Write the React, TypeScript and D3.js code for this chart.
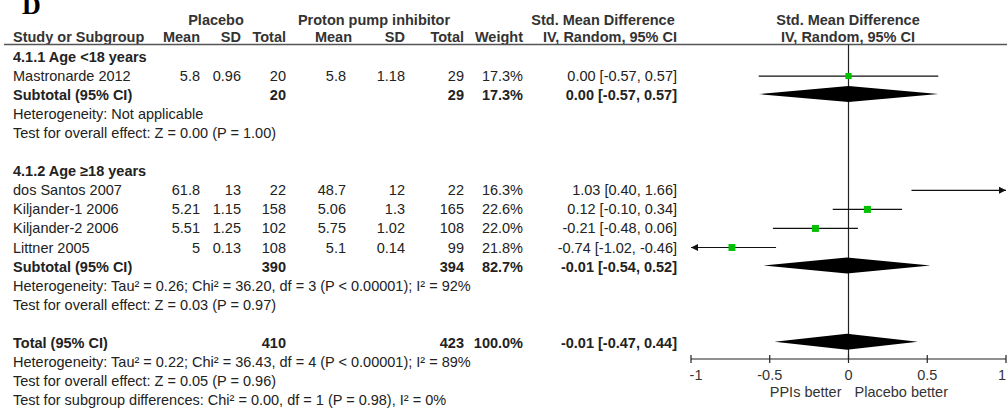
import React from "react";
import * as d3 from "d3";

// Study-level data
const studyNames = ["Mastronarde 2012", "dos Santos 2007", "Kiljander-1 2006", "Kiljander-2 2006", "Littner 2005"];
const placeboMean = ["5.8", "61.8", "5.21", "5.51", "5"];
const placeboSD = ["0.96", "13", "1.15", "1.25", "0.13"];
const placeboTotal = [20, 22, 158, 102, 108];
const ppiMean = ["5.8", "48.7", "5.06", "5.75", "5.1"];
const ppiSD = ["1.18", "12", "1.3", "1.02", "0.14"];
const ppiTotal = [29, 22, 165, 108, 99];
const studyWeight = [17.3, 16.3, 22.6, 22.0, 21.8];
const studySMD = [0.0, 1.03, 0.12, -0.21, -0.74];
const studyLo = [-0.57, 0.4, -0.1, -0.48, -1.02];
const studyHi = [0.57, 1.66, 0.34, 0.06, -0.46];

// Pooled estimates: subgroup 1, subgroup 2, overall
const pooledLabels = ["Subtotal (95% CI)", "Subtotal (95% CI)", "Total (95% CI)"];
const pooledPlaceboN = [20, 390, 410];
const pooledPpiN = [29, 394, 423];
const pooledWeight = [17.3, 82.7, 100.0];
const pooledSMD = [0.0, -0.01, -0.01];
const pooledLo = [-0.57, -0.54, -0.47];
const pooledHi = [0.57, 0.52, 0.44];

const axisTicks = [-1, -0.5, 0, 0.5, 1];

const fmt2 = d3.format(".2f");
const fmtW = (w: number) => d3.format(".1f")(w) + "%";
const ciText = (m: number, lo: number, hi: number) =>
  `${fmt2(m)} [${fmt2(lo)}, ${fmt2(hi)}]`.replace(/\u2212/g, "-");

type Row =
  | { kind: "heading"; text: string }
  | { kind: "study"; i: number }
  | { kind: "pooled"; i: number }
  | { kind: "note"; text: string }
  | { kind: "blank" };

const rows: Row[] = [
  { kind: "heading", text: "4.1.1 Age <18 years" },
  { kind: "study", i: 0 },
  { kind: "pooled", i: 0 },
  { kind: "note", text: "Heterogeneity: Not applicable" },
  { kind: "note", text: "Test for overall effect: Z = 0.00 (P = 1.00)" },
  { kind: "blank" },
  { kind: "heading", text: "4.1.2 Age \u226518 years" },
  { kind: "study", i: 1 },
  { kind: "study", i: 2 },
  { kind: "study", i: 3 },
  { kind: "study", i: 4 },
  { kind: "pooled", i: 1 },
  { kind: "note", text: "Heterogeneity: Tau\u00b2 = 0.26; Chi\u00b2 = 36.20, df = 3 (P < 0.00001); I\u00b2 = 92%" },
  { kind: "note", text: "Test for overall effect: Z = 0.03 (P = 0.97)" },
  { kind: "blank" },
  { kind: "pooled", i: 2 },
  { kind: "note", text: "Heterogeneity: Tau\u00b2 = 0.22; Chi\u00b2 = 36.43, df = 4 (P < 0.00001); I\u00b2 = 89%" },
  { kind: "note", text: "Test for overall effect: Z = 0.05 (P = 0.96)" },
  { kind: "note", text: "Test for subgroup differences: Chi\u00b2 = 0.00, df = 1 (P = 0.98), I\u00b2 = 0%" },
];

const W = 1007;
const H = 410;
const FONT = "'Liberation Sans', Arial, sans-serif";
const TXT = "#222";

// Column right edges
const col = {
  pMean: 200,
  pSD: 241,
  pTotal: 286,
  iMean: 346,
  iSD: 405,
  iTotal: 464,
  weight: 523,
  ci: 677,
};
const leftX = 13;

export default function App() {
  const x = d3.scaleLinear().domain([-1, 1]).range([691, 1006]);
  const y = d3.scaleLinear().domain([0, 1]).range([57, 57 + 19.05]);
  const sq = d3.scaleSqrt().domain([0, 25]).range([0, 7.4]);
  const [xMin, xMax] = x.domain();
  const axisY = 359;
  const headerLineY = 44.5;
  const fs = 14.5;

  const num = (v: string | number, xr: number, cy: number, bold = false) => (
    <text x={xr} y={cy + 5} textAnchor="end" fontWeight={bold ? "bold" : "normal"}>
      {v}
    </text>
  );

  const diamond = (m: number, lo: number, hi: number, cy: number) => {
    const p = d3.path();
    p.moveTo(x(lo), cy);
    p.lineTo(x(m), cy - 8);
    p.lineTo(x(hi), cy);
    p.lineTo(x(m), cy + 8);
    p.closePath();
    return <path d={p.toString()} fill="#000" />;
  };

  const ciLine = (m: number, lo: number, hi: number, w: number, cy: number) => {
    const a = Math.max(lo, xMin);
    const b = Math.min(hi, xMax);
    const parts: React.ReactNode[] = [];
    parts.push(<line key="l" x1={x(a)} x2={x(b)} y1={cy} y2={cy} stroke="#111" strokeWidth={1.2} />);
    if (hi > xMax) {
      const xe = x(xMax);
      parts.push(<path key="ar" d={`M${xe},${cy} L${xe - 7},${cy - 3.5} L${xe - 7},${cy + 3.5} Z`} fill="#111" />);
    }
    if (lo < xMin) {
      const xs = x(xMin);
      parts.push(<path key="al" d={`M${xs},${cy} L${xs + 7},${cy - 3.5} L${xs + 7},${cy + 3.5} Z`} fill="#111" />);
    }
    if (m >= xMin && m <= xMax) {
      const s = sq(w);
      parts.push(<rect key="s" x={x(m) - s / 2} y={cy - s / 2} width={s} height={s} fill="#00c000" />);
    }
    return parts;
  };

  return (
    <svg width={W} height={H} style={{ position: "absolute", left: 0, top: 0, background: "#fff" }}
      fontFamily={FONT} fontSize={fs} fill={TXT}>
      <rect width={W} height={H} fill="#fff" />
      <text x={22} y={14} fontFamily="'Liberation Serif', 'Times New Roman', serif" fontWeight="bold" fontSize={26} fill="#000">D</text>

      {/* Column headers */}
      <g fontWeight="bold" fill="#333">
        <text x={216} y={25} textAnchor="middle">Placebo</text>
        <text x={374} y={25} textAnchor="middle">Proton pump inhibitor</text>
        <text x={603} y={25} textAnchor="middle">Std. Mean Difference</text>
        <text x={848} y={25} textAnchor="middle">Std. Mean Difference</text>
        <text x={leftX} y={42}>Study or Subgroup</text>
        <text x={col.pMean} y={42} textAnchor="end">Mean</text>
        <text x={col.pSD} y={42} textAnchor="end">SD</text>
        <text x={col.pTotal} y={42} textAnchor="end">Total</text>
        <text x={col.iMean + 6} y={42} textAnchor="end">Mean</text>
        <text x={col.iSD} y={42} textAnchor="end">SD</text>
        <text x={col.iTotal} y={42} textAnchor="end">Total</text>
        <text x={col.weight} y={42} textAnchor="end">Weight</text>
        <text x={col.ci} y={42} textAnchor="end">IV, Random, 95% CI</text>
        <text x={848} y={42} textAnchor="middle">IV, Random, 95% CI</text>
      </g>
      <line x1={4} x2={W} y1={headerLineY} y2={headerLineY} stroke="#555" strokeWidth={1.5} />

      {/* Line of no effect */}
      <line x1={x(0)} x2={x(0)} y1={headerLineY} y2={axisY} stroke="#222" strokeWidth={1.2} />

      {rows.map((r, k) => {
        const cy = y(k);
        if (r.kind === "blank") return null;
        if (r.kind === "heading")
          return <text key={k} x={leftX} y={cy + 5} fontWeight="bold">{r.text}</text>;
        if (r.kind === "note")
          return <text key={k} x={leftX} y={cy + 5}>{r.text}</text>;
        if (r.kind === "study") {
          const i = r.i;
          return (
            <g key={k}>
              <text x={leftX} y={cy + 5}>{studyNames[i]}</text>
              {num(placeboMean[i], col.pMean, cy)}
              {num(placeboSD[i], col.pSD, cy)}
              {num(placeboTotal[i], col.pTotal, cy)}
              {num(ppiMean[i], col.iMean, cy)}
              {num(ppiSD[i], col.iSD, cy)}
              {num(ppiTotal[i], col.iTotal, cy)}
              {num(fmtW(studyWeight[i]), col.weight, cy)}
              {num(ciText(studySMD[i], studyLo[i], studyHi[i]), col.ci, cy)}
              {ciLine(studySMD[i], studyLo[i], studyHi[i], studyWeight[i], cy)}
            </g>
          );
        }
        const i = r.i;
        return (
          <g key={k}>
            <text x={leftX} y={cy + 5} fontWeight="bold">{pooledLabels[i]}</text>
            {num(pooledPlaceboN[i], col.pTotal, cy, true)}
            {num(pooledPpiN[i], col.iTotal, cy, true)}
            {num(fmtW(pooledWeight[i]), col.weight, cy, true)}
            {num(ciText(pooledSMD[i], pooledLo[i], pooledHi[i]), col.ci, cy, true)}
            {diamond(pooledSMD[i], pooledLo[i], pooledHi[i], cy - 1)}
          </g>
        );
      })}

      {/* Axis */}
      <line x1={x(xMin)} x2={x(xMax)} y1={axisY} y2={axisY} stroke="#222" strokeWidth={1.2} />
      {axisTicks.map((t) => (
        <g key={t}>
          <line x1={x(t)} x2={x(t)} y1={axisY - 4} y2={axisY + 4} stroke="#222" strokeWidth={1.2} />
          <text x={Math.min(Math.max(x(t), 696), 1002)} y={axisY + 21} textAnchor="middle" fill="#333">
            {String(t)}
          </text>
        </g>
      ))}
      <text x={x(0) - 7} y={axisY + 38} textAnchor="end" fill="#333">PPIs better</text>
      <text x={x(0) + 6} y={axisY + 38} fill="#333">Placebo better</text>
    </svg>
  );
}
